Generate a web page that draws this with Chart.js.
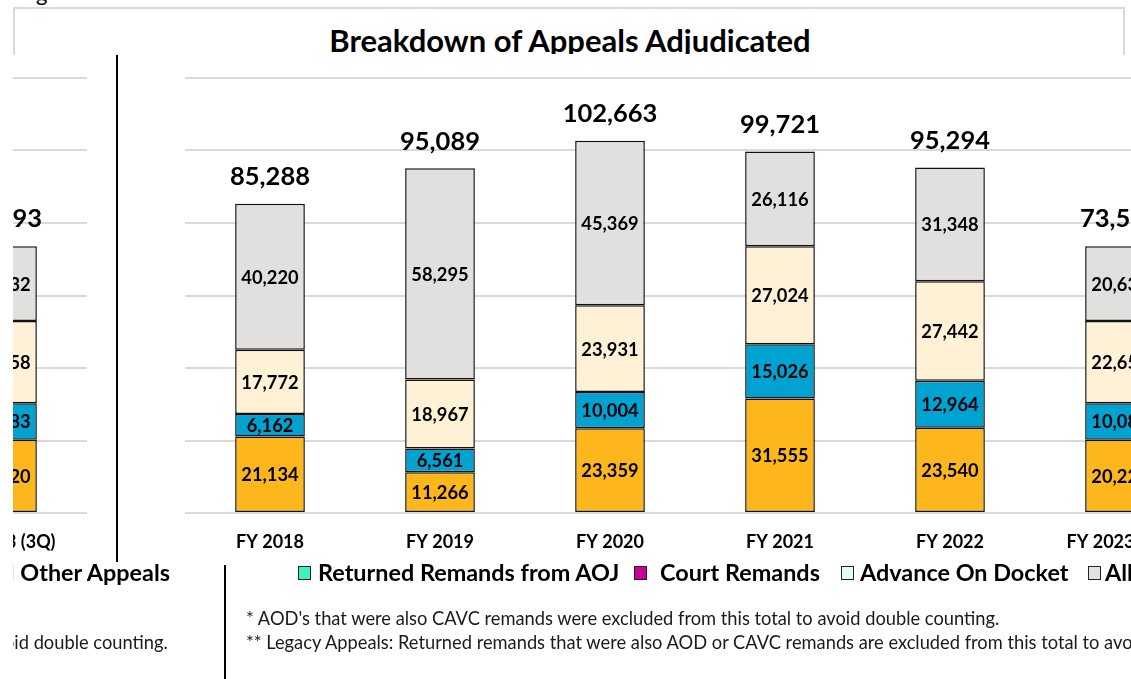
<!DOCTYPE html>
<html><head><meta charset="utf-8">
<script src="https://cdn.jsdelivr.net/npm/chart.js@4.4.1/dist/chart.umd.min.js"></script>
<style>
html,body{margin:0;padding:0;background:#fff;}
body{width:1131px;height:679px;overflow:hidden;position:relative;font-family:Lato,sans-serif;color:#000;}
.abs{position:absolute;}
#topg{left:36px;top:-19px;font-size:22px;line-height:24px;}
#topbox{left:13px;top:7px;width:1112px;height:48px;border:2px solid #d9d9d9;border-bottom:none;box-sizing:border-box;}
#titleclip{left:15px;top:20px;width:1110px;height:34px;overflow:hidden;}
#title{position:absolute;left:0;top:2px;width:100%;text-align:center;font-weight:bold;font-size:31px;line-height:36px;white-space:nowrap;}
.clip{position:absolute;overflow:hidden;}
.clip canvas{position:absolute;top:0;}
.vline{position:absolute;background:#000;width:2px;}
.footer{position:absolute;top:0;width:2300px;height:130px;}
.sq{position:absolute;width:11px;height:12px;border:1.5px solid #222;}
.lt{position:absolute;font-weight:bold;font-size:23.4px;line-height:28px;white-space:nowrap;}
.fn{position:absolute;font-size:18.3px;line-height:22px;white-space:nowrap;color:#1a1a1a;}
</style></head>
<body>
<div id="topg" class="abs">g</div>
<div id="topbox" class="abs"></div>
<div id="titleclip" class="abs"><div id="title">Breakdown of Appeals Adjudicated</div></div>

<div class="clip" style="left:13px;top:55px;width:103px;height:510px;"><canvas id="cLeft" width="1090" height="508" style="left:-1011px"></canvas></div>
<div class="vline" style="left:116px;top:55px;height:507px;"></div>
<div class="clip" style="left:119px;top:55px;width:1012px;height:510px;"><canvas id="cMain" width="1090" height="508" style="left:1px"></canvas></div>

<div class="clip" style="left:13px;top:556px;width:210px;height:123px;"><div class="footer" id="fLeft" style="left:-1131px"></div></div>
<div class="vline" style="left:224px;top:565px;height:114px;"></div>
<div class="clip" style="left:227px;top:556px;width:904px;height:123px;"><div class="footer" id="fMain" style="left:-227px"></div></div>

<script>
// ---- data ----
const categories = ["FY 2018","FY 2019","FY 2020","FY 2021","FY 2022","FY 2023 (3Q)"];
const returnedRemands = [21134, 11266, 23359, 31555, 23540, 20220];
const courtRemands    = [6162, 6561, 10004, 15026, 12964, 10083];
const advanceOnDocket = [17772, 18967, 23931, 27024, 27442, 22658];
const allOtherAppeals = [40220, 58295, 45369, 26116, 31348, 20632];
const seriesNames = ["Returned Remands from AOJ","Court Remands","Advance On Docket","All Other Appeals"];
const barColors = ["#FDB71D","#00A2D1","#FFF1D6","#E1E0DF"];
const legendColors = ["#3CF3BF","#C9009B","#DFFDF2","#E2E2E2"];
const yMax = 120000, yStep = 20000;
const footnotes = [
  "* AOD's that were also CAVC remands were excluded from this total to avoid double counting.",
  "** Legacy Appeals: Returned remands that were also AOD or CAVC remands are excluded from this total to avoid double counting."
];

// ---- footer (legend + notes) ----
const lastLabels = [];
function buildFooter(el){
  const sqX = [298, 634, 841, 1088];
  const txX = [318, 660, 860, 1105];
  seriesNames.forEach((n,i)=>{
    const s=document.createElement('div'); s.className='sq';
    s.style.left=sqX[i]+'px'; s.style.top='10px'; s.style.background=legendColors[i]; el.appendChild(s);
    const t=document.createElement('div'); t.className='lt'; t.textContent=n;
    t.style.left=txX[i]+'px'; t.style.top='2px'; el.appendChild(t);
    if(i===seriesNames.length-1) lastLabels.push(t);
  });
  footnotes.forEach((f,i)=>{
    const d=document.createElement('div'); d.className='fn'; d.textContent=f;
    d.style.left='246px'; d.style.top=(51+i*24)+'px'; el.appendChild(d);
  });
}
buildFooter(document.getElementById('fLeft'));
buildFooter(document.getElementById('fMain'));

// ---- chart ----
const labelPlugin = {
  id:'segLabels',
  afterDatasetsDraw(chart){
    const ctx = chart.ctx;
    ctx.save();
    ctx.fillStyle='#000'; ctx.textAlign='center'; ctx.textBaseline='middle';
    ctx.font='bold 18.3px Lato';
    chart.data.datasets.forEach((ds,i)=>{
      chart.getDatasetMeta(i).data.forEach((bar,j)=>{
        ctx.fillText(ds.data[j].toLocaleString('en-US'), bar.x, (bar.y+bar.base)/2+1);
      });
    });
    const n = chart.data.datasets.length;
    ctx.font='bold 25.5px Lato';
    chart.getDatasetMeta(n-1).data.forEach((bar,j)=>{
      const total = chart.data.datasets.reduce((s,d)=>s+d.data[j],0);
      ctx.fillText(total.toLocaleString('en-US'), bar.x, bar.y-27);
    });
    ctx.restore();
  }
};

function makeChart(id){
  const series=[returnedRemands,courtRemands,advanceOnDocket,allOtherAppeals];
  return new Chart(document.getElementById(id),{
    type:'bar',
    data:{labels:categories,datasets:series.map((d,i)=>({
      label:seriesNames[i],data:d,backgroundColor:barColors[i],borderColor:'#111',borderWidth:1.5,borderSkipped:false,
      barPercentage:0.41,categoryPercentage:1
    }))},
    options:{
      responsive:false,animation:false,devicePixelRatio:1,
      layout:{padding:{left:65,right:5,top:23,bottom:0}},
      plugins:{legend:{display:false},title:{display:false},tooltip:{enabled:false}},
      scales:{
        x:{stacked:true,offset:true,grid:{display:false,drawTicks:false},border:{display:false},
           ticks:{color:'#000',font:{family:'Lato',weight:'bold',size:18},padding:18,maxRotation:0,autoSkip:false},
           afterFit(s){s.height=50;}},
        y:{stacked:true,min:0,max:yMax,grid:{color:'#d9d9d9',lineWidth:2,drawTicks:false},border:{display:false},
           ticks:{display:false,stepSize:yStep},afterFit(s){s.width=0;}}
      }
    },
    plugins:[labelPlugin]
  });
}
Promise.all([document.fonts.load('bold 18px Lato'),document.fonts.load('18px Lato')]).catch(()=>{}).then(()=>{
  // place the left (repeated) footer so that "All Other Appeals" ends at x=170
  const w = lastLabels[0].getBoundingClientRect().width;
  const shift = (1105 + w) - 170;
  document.getElementById('fLeft').style.left = (-13 - shift) + 'px';
  makeChart('cLeft'); makeChart('cMain');
});
</script>
</body></html>
